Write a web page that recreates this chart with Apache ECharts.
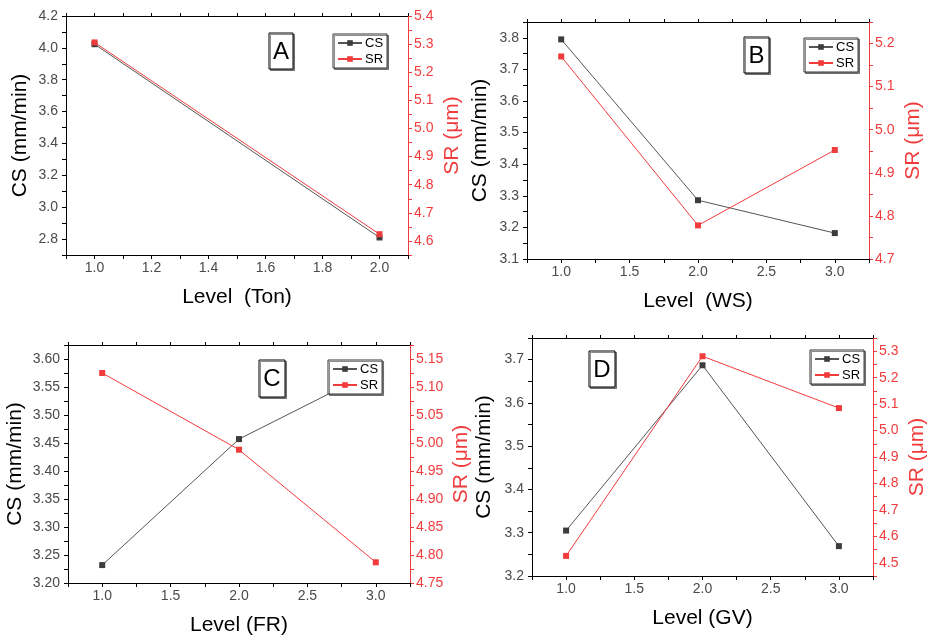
<!DOCTYPE html>
<html>
<head>
<meta charset="utf-8">
<script src="https://cdn.jsdelivr.net/npm/echarts@6/dist/echarts.min.js"></script>
<style>
  html, body { margin: 0; padding: 0; background: #fff; }
  #chart { width: 929px; height: 638px; }
</style>
</head>
<body>
<div id="chart"></div>
<script>
// values
const levelsA = [1, 2];
const csA = [4.023, 2.81];
const srA = [5.306, 4.624];

const levelsB = [1, 2, 3];
const csB = [3.795, 3.286, 3.182];
const srB = [5.17, 4.778, 4.953];

const levelsC = [1, 2, 3];
const csC = [3.232, 3.457, 3.58];
const srC = [5.125, 4.988, 4.787];

const levelsD = [1, 2, 3];
const csD = [3.305, 3.687, 3.269];
const srD = [4.526, 5.281, 5.085];

const panelLetters = ["A", "B", "C", "D"];
const xNames = ["Level  (Ton)", "Level  (WS)", "Level (FR)", "Level (GV)"];

const FONT = 'Arial, "Liberation Sans", sans-serif';
const RED = "#f03c3c";
const GREY = "#4a4a4a";

// label every `step`, axis ticks every interval
function every(step, digits) {
  return function (v) {
    const k = Math.round(v / step * 1000) / 1000;
    return Math.abs(k - Math.round(k)) < 1e-6 ? v.toFixed(digits) : "";
  };
}

const panels = [
  { levels: levelsA, cs: csA, sr: srA,
    grid: { left: 66, top: 16, width: 342, height: 239 },
    x: { min: 0.9, max: 2.1, interval: 0.1, step: 0.2 },
    yl: { min: 2.7, max: 4.2, interval: 0.1, step: 0.2, digits: 1, gap: 35 },
    yr: { min: 4.55, max: 5.4, interval: 0.05, step: 0.1, digits: 1, gap: 34 },
    box: [269, 33, 24, 36], legend: [333, 34] },
  { levels: levelsB, cs: csB, sr: srB,
    grid: { left: 527, top: 22, width: 342, height: 237 },
    x: { min: 0.75, max: 3.25, interval: 0.25, step: 0.5 },
    yl: { min: 3.1, max: 3.85, interval: 0.05, step: 0.1, digits: 1, gap: 36 },
    yr: { min: 4.7, max: 5.25, interval: 0.05, step: 0.1, digits: 1, gap: 34 },
    box: [744, 37, 25, 36], legend: [804, 38] },
  { levels: levelsC, cs: csC, sr: srC,
    grid: { left: 68, top: 345, width: 342, height: 238 },
    x: { min: 0.75, max: 3.25, interval: 0.25, step: 0.5 },
    yl: { min: 3.2, max: 3.625, interval: 0.025, step: 0.05, digits: 2, gap: 42 },
    yr: { min: 4.75, max: 5.175, interval: 0.025, step: 0.05, digits: 2, gap: 41 },
    box: [259, 360, 26, 37], legend: [328, 360] },
  { levels: levelsD, cs: csD, sr: srD,
    grid: { left: 532, top: 338, width: 342, height: 238 },
    x: { min: 0.75, max: 3.25, interval: 0.25, step: 0.5 },
    yl: { min: 3.2, max: 3.75, interval: 0.05, step: 0.1, digits: 1, gap: 37 },
    yr: { min: 4.45, max: 5.35, interval: 0.05, step: 0.1, digits: 1, gap: 34 },
    box: [589, 351, 26, 36], legend: [810, 350] }
];

const grid = [];
const xAxis = [];
const yAxis = [];
const series = [];
const legend = [];
const graphic = [];

panels.forEach(function (p, i) {
  grid.push(p.grid);

  xAxis.push({
    type: "value", gridIndex: i, position: "bottom",
    min: p.x.min, max: p.x.max, interval: p.x.interval,
    name: xNames[i], nameLocation: "middle", nameGap: 32,
    nameTextStyle: { color: "#000", fontSize: 21, fontFamily: FONT },
    axisLine: { show: true, lineStyle: { color: "#000", width: 1 } },
    axisTick: { show: true, length: 4, lineStyle: { color: "#000" } },
    axisLabel: { formatter: every(p.x.step, 1), color: GREY, fontSize: 14, fontFamily: FONT, margin: 6 },
    splitLine: { show: false }
  });
  xAxis.push({
    type: "value", gridIndex: i, position: "top",
    min: p.x.min, max: p.x.max, interval: p.x.interval,
    axisLine: { show: true, lineStyle: { color: "#000", width: 1 } },
    axisTick: { show: true, length: 3, lineStyle: { color: "#000" } },
    axisLabel: { show: false },
    splitLine: { show: false }
  });

  yAxis.push({
    type: "value", gridIndex: i, position: "left",
    min: p.yl.min, max: p.yl.max, interval: p.yl.interval,
    name: "CS (mm/min)", nameLocation: "middle", nameRotate: 90, nameGap: p.yl.gap,
    nameTextStyle: { color: "#000", fontSize: 21, fontFamily: FONT },
    axisLine: { show: true, lineStyle: { color: "#000", width: 1 } },
    axisTick: { show: true, length: 4, lineStyle: { color: "#000" } },
    axisLabel: { formatter: every(p.yl.step, p.yl.digits), color: GREY, fontSize: 14, fontFamily: FONT, margin: 8 },
    splitLine: { show: false }
  });
  yAxis.push({
    type: "value", gridIndex: i, position: "right",
    min: p.yr.min, max: p.yr.max, interval: p.yr.interval,
    name: "SR (\u03bcm)", nameLocation: "middle", nameRotate: 90, nameGap: p.yr.gap,
    nameTextStyle: { color: RED, fontSize: 21, fontFamily: FONT },
    axisLine: { show: true, lineStyle: { color: RED, width: 1 } },
    axisTick: { show: true, length: 4, lineStyle: { color: RED } },
    axisLabel: { formatter: every(p.yr.step, p.yr.digits), color: RED, fontSize: 14, fontFamily: FONT, margin: 6 },
    splitLine: { show: false }
  });

  series.push({
    name: "CS", type: "line", xAxisIndex: i * 2, yAxisIndex: i * 2,
    data: p.levels.map(function (l, k) { return [l, p.cs[k]]; }),
    symbol: "rect", symbolSize: 6,
    lineStyle: { color: "#555", width: 1 },
    itemStyle: { color: "#3c3c3c" }
  });
  series.push({
    name: "SR", type: "line", xAxisIndex: i * 2, yAxisIndex: i * 2 + 1,
    data: p.levels.map(function (l, k) { return [l, p.sr[k]]; }),
    symbol: "rect", symbolSize: 6,
    lineStyle: { color: RED, width: 1 },
    itemStyle: { color: RED }
  });

  legend.push({
    orient: "vertical", left: p.legend[0], top: p.legend[1],
    data: ["CS", "SR"],
    padding: [2, 4, 2, 4], itemGap: 2, itemWidth: 24, itemHeight: 7,
    backgroundColor: "#fff", borderColor: "#333", borderWidth: 1,
    shadowColor: "rgba(0,0,0,0.45)", shadowOffsetX: 1.5, shadowOffsetY: 1.5,
    textStyle: { color: "#000", fontSize: 13, fontFamily: FONT, lineHeight: 14, padding: [0, 0, 0, -2] },
    selectedMode: false
  });

  graphic.push({
    type: "rect",
    shape: { x: p.box[0], y: p.box[1], width: p.box[2], height: p.box[3] },
    style: { fill: "#fff", stroke: "#000", lineWidth: 1,
      shadowColor: "rgba(0,0,0,0.45)", shadowOffsetX: 1.5, shadowOffsetY: 1.5 },
    z: 10
  });
  graphic.push({
    type: "text",
    x: p.box[0] + p.box[2] / 2, y: p.box[1] + p.box[3] / 2 + 1,
    style: { text: panelLetters[i], fill: "#000", fontSize: 24, fontFamily: FONT,
      align: "center", verticalAlign: "middle" },
    z: 11
  });
});

const option = {
  animation: false,
  backgroundColor: "#fff",
  grid: grid,
  xAxis: xAxis,
  yAxis: yAxis,
  legend: legend,
  series: series,
  graphic: graphic
};

const chart = echarts.init(document.getElementById("chart"));
chart.setOption(option);
</script>
</body>
</html>
